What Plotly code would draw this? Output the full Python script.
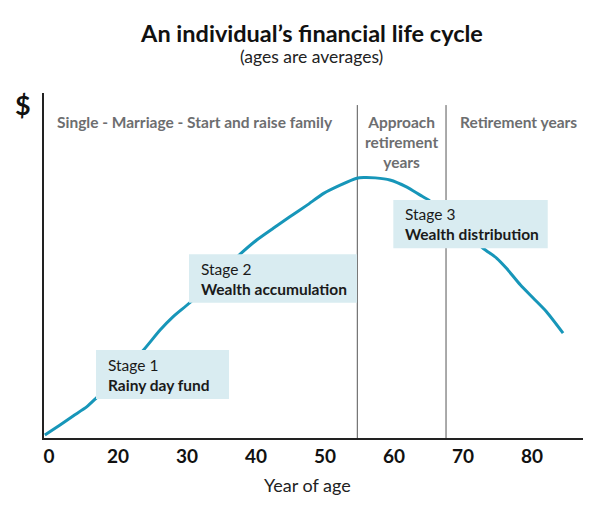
import plotly.graph_objects as go

# ---- data (x = position on the age axis, whose ticks are evenly spaced) ----
age_ticks = ["0", "20", "30", "40", "50", "60", "70", "80"]
tick_pos = [0, 1, 2, 3, 4, 5, 6, 7]

curve_x = [-0.06, 0.16, 0.35, 0.55, 0.68, 1.03, 1.37, 1.61, 1.80, 2.04, 2.41, 2.77,
           3.01, 3.25, 3.49, 3.74, 3.98, 4.22, 4.46, 4.56, 4.73, 4.94, 5.18, 5.38,
           5.50, 5.88, 6.29, 6.49, 6.63, 6.83, 7.02, 7.21, 7.45]
curve_y = [0.9, 3.8, 6.4, 9.1, 11.5, 18.3, 25.5, 31.3, 35.2, 39.2, 46.4, 53.3,
           57.4, 60.8, 64.1, 67.5, 70.9, 73.3, 75.3, 75.5, 75.4, 74.8, 72.8, 70.4,
           69.0, 62.3, 55.0, 52.1, 49.2, 44.4, 40.5, 36.6, 30.4]

divider_x = [4.468, 5.754]
divider_top = 96.5

phase_labels = ["Single - Marriage - Start and raise family",
                "Approach<br>retirement<br>years",
                "Retirement years"]
phase_x = [0.087, 5.106, 6.797]
phase_y = [91.5, 85.8, 91.5]
phase_anchor = ["left", "center", "center"]

stage_titles = ["Stage 1", "Stage 2", "Stage 3"]
stage_names = ["Rainy day fund", "Wealth accumulation", "Wealth distribution"]
box_x0 = [0.681, 2.029, 4.990]
box_x1 = [2.609, 4.464, 7.228]
box_y0 = [11.3, 39.2, 55.0]
box_y1 = [25.5, 53.25, 69.0]

FONT = "Lato"
BLUE = "#1796b9"
BOX = "#d9ecf1"
GREY = "#6d6e70"

fig = go.Figure()
fig.add_trace(go.Scatter(
    x=curve_x, y=curve_y, mode="lines",
    line=dict(color=BLUE, width=3, shape="spline", smoothing=0.6),
    hoverinfo="skip", showlegend=False))

shapes = []
for dx in divider_x:
    shapes.append(dict(type="line", xref="x", yref="y", x0=dx, x1=dx, y0=0, y1=divider_top,
                       line=dict(color="#555555", width=1), layer="below"))
for i in range(3):
    shapes.append(dict(type="rect", xref="x", yref="y", x0=box_x0[i], x1=box_x1[i],
                       y0=box_y0[i], y1=box_y1[i], fillcolor=BOX, line=dict(width=0),
                       layer="above"))

annotations = []
for lab, x, y, a in zip(phase_labels, phase_x, phase_y, phase_anchor):
    annotations.append(dict(text=lab, x=x, y=y, xref="x", yref="y", showarrow=False,
                            xanchor=a, yanchor="middle", align="center",
                            font=dict(family=FONT, size=15.5, color=GREY, weight="bold")))
for i in range(3):
    yc = (box_y0[i] + box_y1[i]) / 2
    annotations.append(dict(
        text=f"{stage_titles[i]}<br><b>{stage_names[i]}</b>",
        x=box_x0[i] + 0.14, y=yc, xref="x", yref="y",
        showarrow=False, xanchor="left", yanchor="middle", align="left",
        font=dict(family=FONT, size=15.5, color="#1a1a1a")))

annotations.append(dict(text="(ages are averages)", x=0.497, y=1.106, xref="paper", yref="paper",
                        showarrow=False, xanchor="center", yanchor="middle",
                        font=dict(family=FONT, size=17.5, color="#222222")))
annotations.append(dict(text="$", x=-0.039, y=0.968, xref="paper", yref="paper",
                        showarrow=False, xanchor="center", yanchor="middle",
                        font=dict(family=FONT, size=27, color="#111111", weight="bold")))
annotations.append(dict(text="Year of age", x=0.488, y=-0.136, xref="paper", yref="paper",
                        showarrow=False, xanchor="center", yanchor="middle",
                        font=dict(family=FONT, size=18, color="#222222")))

fig.update_layout(
    width=600, height=511,
    margin=dict(l=44, r=17, t=93, b=73),
    paper_bgcolor="white", plot_bgcolor="white",
    title=dict(text="<b>An individual’s financial life cycle</b>", x=0.52, xanchor="center",
               y=1 - 33.5 / 511, yanchor="middle",
               font=dict(family=FONT, size=23.5, color="#111111")),
    xaxis=dict(range=[-0.0725, 7.739], tickvals=tick_pos, ticktext=age_ticks,
               showgrid=False, zeroline=False, showline=True, linecolor="#222222",
               linewidth=2, ticks="", fixedrange=True,
               tickfont=dict(family=FONT, size=19, color="#111111", weight="bold")),
    yaxis=dict(range=[0, 100], showgrid=False, zeroline=False, showline=True,
               linecolor="#222222", linewidth=2, showticklabels=False, ticks="",
               fixedrange=True),
    shapes=shapes, annotations=annotations,
)

fig.write_html("out.html", config={"displayModeBar": False},
               post_script="document.body.style.margin='0';document.body.style.overflow='hidden';")
